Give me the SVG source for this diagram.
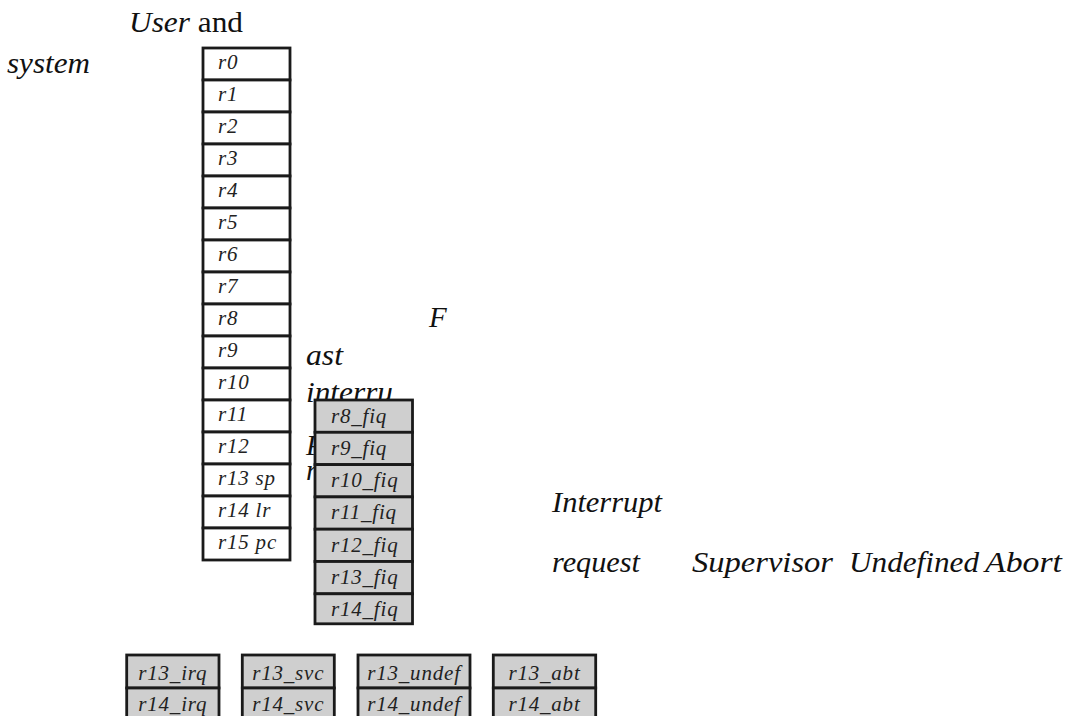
<svg xmlns="http://www.w3.org/2000/svg" width="1071" height="716" viewBox="0 0 1071 716" font-family="'Liberation Serif', 'Times New Roman', Times, serif">
  <style>
    .reg { fill: #ffffff; stroke: #1a1a1a; stroke-width: 2.8; }
    .bank { fill: #cfcfcf; stroke: #1a1a1a; stroke-width: 2.8; }
    text { font-family: 'Liberation Serif', 'Times New Roman', Times, serif; font-style: italic; }
    .lbl { font-size: 21px; letter-spacing: 0.8px; fill: #222; }
    .mid { text-anchor: middle; }
    .head { font-size: 29px; fill: #111; }
  </style>

  <!-- mode headings -->
  <g id="headings">
    <text class="head" x="129" y="32" textLength="114" lengthAdjust="spacingAndGlyphs">User <tspan font-style="normal">and</tspan></text>
    <text class="head" x="7" y="73" textLength="83" lengthAdjust="spacingAndGlyphs">system</text>
    <text class="head" x="429" y="327" font-size="32">F</text>
    <text class="head" x="306" y="365" textLength="37" lengthAdjust="spacingAndGlyphs">ast</text>
    <text class="head" x="306" y="402" textLength="87" lengthAdjust="spacingAndGlyphs">interru</text>
    <text class="head" x="306" y="455">P</text>
    <text class="head" x="306" y="480">r</text>
    <text class="head" x="552" y="512" textLength="110" lengthAdjust="spacingAndGlyphs">Interrupt</text>
    <text class="head" x="552" y="572" textLength="88" lengthAdjust="spacingAndGlyphs">request</text>
    <text class="head" x="692" y="572" textLength="141" lengthAdjust="spacingAndGlyphs">Supervisor</text>
    <text class="head" x="849" y="572" textLength="130" lengthAdjust="spacingAndGlyphs">Undefined</text>
    <text class="head" x="985" y="572" textLength="77" lengthAdjust="spacingAndGlyphs">Abort</text>
  </g>

  <!-- user/system register file r0-r15 -->
  <g id="user-registers">
    <rect class="reg" x="203" y="48" width="87" height="32"/><text class="lbl" x="218" y="69">r0</text>
    <rect class="reg" x="203" y="80" width="87" height="32"/><text class="lbl" x="218" y="101">r1</text>
    <rect class="reg" x="203" y="112" width="87" height="32"/><text class="lbl" x="218" y="133">r2</text>
    <rect class="reg" x="203" y="144" width="87" height="32"/><text class="lbl" x="218" y="165">r3</text>
    <rect class="reg" x="203" y="176" width="87" height="32"/><text class="lbl" x="218" y="197">r4</text>
    <rect class="reg" x="203" y="208" width="87" height="32"/><text class="lbl" x="218" y="229">r5</text>
    <rect class="reg" x="203" y="240" width="87" height="32"/><text class="lbl" x="218" y="261">r6</text>
    <rect class="reg" x="203" y="272" width="87" height="32"/><text class="lbl" x="218" y="293">r7</text>
    <rect class="reg" x="203" y="304" width="87" height="32"/><text class="lbl" x="218" y="325">r8</text>
    <rect class="reg" x="203" y="336" width="87" height="32"/><text class="lbl" x="218" y="357">r9</text>
    <rect class="reg" x="203" y="368" width="87" height="32"/><text class="lbl" x="218" y="389">r10</text>
    <rect class="reg" x="203" y="400" width="87" height="32"/><text class="lbl" x="218" y="421">r11</text>
    <rect class="reg" x="203" y="432" width="87" height="32"/><text class="lbl" x="218" y="453">r12</text>
    <rect class="reg" x="203" y="464" width="87" height="32"/><text class="lbl" x="218" y="485">r13 sp</text>
    <rect class="reg" x="203" y="496" width="87" height="32"/><text class="lbl" x="218" y="517">r14 lr</text>
    <rect class="reg" x="203" y="528" width="87" height="32"/><text class="lbl" x="218" y="549">r15 pc</text>
  </g>

  <!-- FIQ banked registers -->
  <g id="fiq-bank">
    <rect class="bank" x="315" y="400" width="97.5" height="32.3"/><text class="lbl" x="331" y="423">r8_fiq</text>
    <rect class="bank" x="315" y="432.3" width="97.5" height="32.3"/><text class="lbl" x="331" y="455">r9_fiq</text>
    <rect class="bank" x="315" y="464.6" width="97.5" height="32.3"/><text class="lbl" x="331" y="487">r10_fiq</text>
    <rect class="bank" x="315" y="496.9" width="97.5" height="32.3"/><text class="lbl" x="331" y="519">r11_fiq</text>
    <rect class="bank" x="315" y="529.2" width="97.5" height="32.3"/><text class="lbl" x="331" y="552">r12_fiq</text>
    <rect class="bank" x="315" y="561.5" width="97.5" height="32.3"/><text class="lbl" x="331" y="584">r13_fiq</text>
    <rect class="bank" x="315" y="593.8" width="97.5" height="30"/><text class="lbl" x="331" y="616">r14_fiq</text>
  </g>

  <!-- IRQ banked registers -->
  <g id="irq-bank">
    <rect class="bank" x="126.7" y="655" width="92.3" height="33"/><text class="lbl mid" x="172.8" y="680">r13_irq</text>
    <rect class="bank" x="126.7" y="688" width="92.3" height="33"/><text class="lbl mid" x="172.8" y="711">r14_irq</text>
  </g>

  <!-- Supervisor banked registers -->
  <g id="svc-bank">
    <rect class="bank" x="242.3" y="655" width="92" height="33"/><text class="lbl mid" x="288.3" y="680">r13_svc</text>
    <rect class="bank" x="242.3" y="688" width="92" height="33"/><text class="lbl mid" x="288.3" y="711">r14_svc</text>
  </g>

  <!-- Undefined banked registers -->
  <g id="undef-bank">
    <rect class="bank" x="358" y="655" width="112" height="33"/><text class="lbl mid" x="414" y="680">r13_undef</text>
    <rect class="bank" x="358" y="688" width="112" height="33"/><text class="lbl mid" x="414" y="711">r14_undef</text>
  </g>

  <!-- Abort banked registers -->
  <g id="abt-bank">
    <rect class="bank" x="493.3" y="655" width="102.4" height="33"/><text class="lbl mid" x="544.5" y="680">r13_abt</text>
    <rect class="bank" x="493.3" y="688" width="102.4" height="33"/><text class="lbl mid" x="544.5" y="711">r14_abt</text>
  </g>

  <!-- no connectors in this figure -->
  <g id="connectors"/>
</svg>
